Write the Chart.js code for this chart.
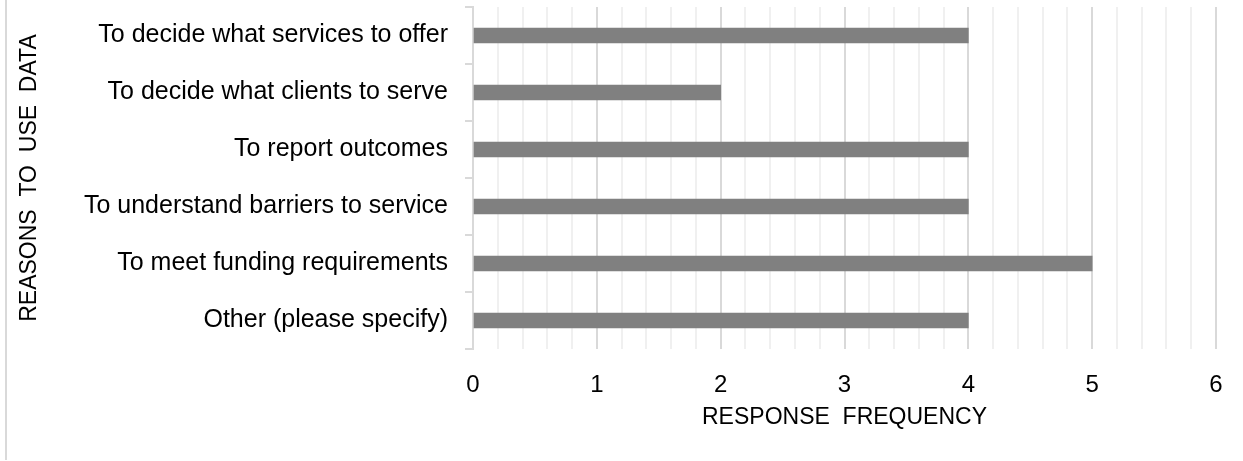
<!DOCTYPE html>
<html>
<head>
<meta charset="utf-8">
<script src="https://cdn.jsdelivr.net/npm/chart.js@4"></script>
<style>
  html, body { margin: 0; padding: 0; background: #fff; }
  #wrap { position: relative; width: 1243px; height: 461px; }
  #edge { position: absolute; left: 5px; top: 0; width: 2px; height: 460px; background: #d9d9d9; }
  canvas { position: absolute; left: 0; top: 0; }
</style>
</head>
<body>
<div id="wrap">
  <canvas id="chart_reasons" width="1243" height="461"></canvas>
  <div id="edge"></div>
</div>
<script>
const categories = [
  "To decide what services to offer",
  "To decide what clients to serve",
  "To report outcomes",
  "To understand barriers to service",
  "To meet funding requirements",
  "Other (please specify)",
];
const frequency = [4, 2, 4, 4, 5, 4];
const xTicks = [0, 1, 2, 3, 4, 5, 6];

const fontName = "'Liberation Sans', Arial, sans-serif";

const chart = document.getElementById("chart_reasons");

new Chart(chart, {
  type: "bar",
  data: {
    labels: categories,
    datasets: [
      {
        label: "Response frequency",
        data: frequency,
        backgroundColor: "#808080",
        barThickness: 15,
      },
    ],
  },
  options: {
    indexAxis: "y",
    responsive: false,
    animation: false,
    layout: { padding: { left: 0, top: 7, right: 27, bottom: 0 } },
    scales: {
      x: {
        min: xTicks[0],
        max: xTicks[xTicks.length - 1],
        afterFit: (scale) => {
          scale.height = 112;
          scale.paddingLeft = 0;
          scale.paddingRight = 0;
        },
        border: { display: false },
        grid: {
          drawTicks: false,
          color: (ctx) => Number.isInteger(Math.round(ctx.tick.value * 1000) / 1000) ? "#d9d9d9" : "#f0f0f0",
          lineWidth: 2,
        },
        ticks: {
          stepSize: 0.2,
          autoSkip: false,
          maxRotation: 0,
          padding: 22,
          color: "#000",
          font: { family: fontName, size: 24 },
          callback: (v) => {
            const r = Math.round(v * 1000) / 1000;
            return xTicks.includes(r) ? String(r) : "";
          },
        },
        title: {
          display: true,
          text: "RESPONSE  FREQUENCY",
          color: "#000",
          font: { family: fontName, size: 23 },
          padding: { top: 0, bottom: 30 },
        },
      },
      y: {
        afterFit: (scale) => {
          scale.width = 473;
          scale.paddingTop = 0;
          scale.paddingBottom = 0;
        },
        border: { display: true, color: "#d9d9d9", width: 2 },
        grid: {
          drawOnChartArea: false,
          drawTicks: true,
          tickLength: 8,
          color: "#d9d9d9",
          lineWidth: 2,
        },
        ticks: {
          padding: 17,
          color: "#000",
          font: { family: fontName, size: 25 },
        },
        title: {
          display: true,
          text: "REASONS  TO  USE  DATA",
          color: "#000",
          font: { family: fontName, size: 23 },
          padding: { top: 16, bottom: 0 },
        },
      },
    },
    plugins: {
      legend: { display: false },
      tooltip: { enabled: false },
    },
  },
});
</script>
</body>
</html>
